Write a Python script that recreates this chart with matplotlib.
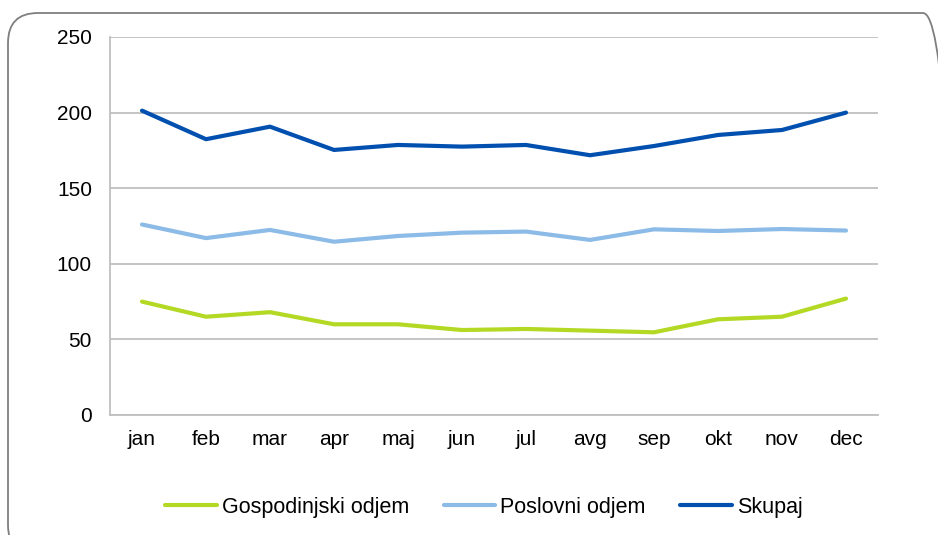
import matplotlib

matplotlib.use("Agg")
import matplotlib.pyplot as plt
from matplotlib.patches import FancyBboxPatch
from matplotlib.transforms import IdentityTransform

plt.rcParams["font.family"] = ["Liberation Sans", "DejaVu Sans"]

months = ["jan", "feb", "mar", "apr", "maj", "jun", "jul", "avg", "sep", "okt", "nov", "dec"]
gospodinjski = [75.0, 65.0, 68.0, 60.0, 60.0, 56.2, 56.9, 55.8, 54.7, 63.3, 65.0, 77.0]
poslovni = [126.0, 117.0, 122.4, 114.6, 118.4, 120.6, 121.3, 115.8, 122.8, 121.7, 123.0, 122.0]
skupaj = [201.3, 182.4, 190.7, 175.3, 178.6, 177.5, 178.6, 171.8, 177.9, 185.2, 188.5, 200.0]
y_ticks = [0, 50, 100, 150, 200, 250]

series = [
    ("Gospodinjski odjem", gospodinjski, "#B3D925"),
    ("Poslovni odjem", poslovni, "#8BBBE6"),
    ("Skupaj", skupaj, "#0150B0"),
]

W, H = 938, 535
fig = plt.figure(figsize=(W / 100, H / 100), dpi=100)

# rounded chart border in pixel coords (right and bottom edges run off the image)
border = FancyBboxPatch(
    (8, -20), 945, H - 13 + 20,
    boxstyle="round,pad=0,rounding_size=30",
    transform=IdentityTransform(), facecolor="none", edgecolor="#7F7F7F", linewidth=1.3,
)
fig.patches.append(border)

ax = fig.add_axes([110 / W, 1 - 415 / H, 768 / W, 378 / H])
x = range(len(months))
for label, vals, color in series:
    ax.plot(x, vals, color=color, linewidth=3, label=label, solid_capstyle="round")

ax.set_xlim(-0.5, len(months) - 0.5)
ax.set_ylim(0, 250)
ax.set_yticks(y_ticks)
ax.set_xticks(list(x))
ax.set_xticklabels(months)
ax.yaxis.grid(True, color="#BFBFBF", linewidth=1.3)
ax.set_axisbelow(True)
for side in ["top", "right"]:
    ax.spines[side].set_visible(False)
for side in ["left", "bottom"]:
    ax.spines[side].set_color("#BFBFBF")
    ax.spines[side].set_linewidth(1.3)
ax.tick_params(axis="both", length=0, labelsize=15)
ax.tick_params(axis="y", pad=13)
ax.tick_params(axis="x", pad=11)

fig.legend(
    loc="center", bbox_to_anchor=(484 / W, 1 - 507 / H), ncol=3, frameon=False,
    fontsize=15.5, handlelength=2.4, columnspacing=1.6, handletextpad=0.23,
)

fig.savefig("out.png", dpi=100)
